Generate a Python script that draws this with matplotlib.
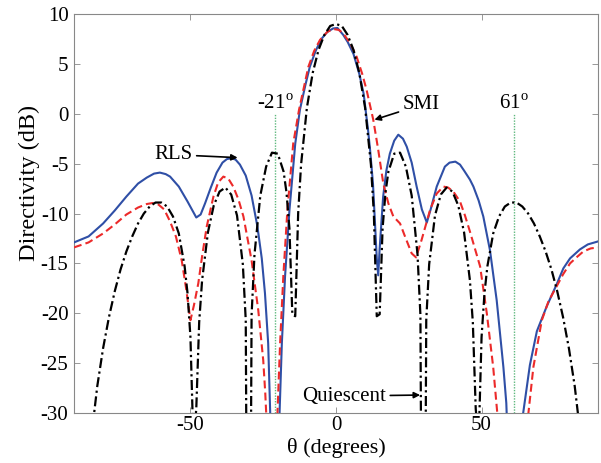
import matplotlib
matplotlib.use("Agg")

import matplotlib.pyplot as plt

# ── 数据 ─────────────────────────────────────────────
q_deg = [-90, -88, -86, -84, -82, -80, -78, -76, -74, -72, -70, -68, -66, -64,
         -62, -60, -58, -56, -54, -52, -51, -50, -49, -48, -47, -46, -44, -42,
         -40, -38, -36, -34, -32, -31, -30, -29, -28, -26, -24, -22, -20, -18,
         -17, -16, -15, -14, -13, -12, -10, -8, -6, -4, -2, 0,
         2, 4, 6, 8, 10, 12, 13, 14, 15, 16, 17, 18, 20, 22, 24, 26, 28, 29,
         30, 31, 32, 34, 36, 38, 40, 42, 44, 46, 47, 48, 49, 50, 51, 52, 54,
         56, 58, 60, 62, 64, 66, 68, 70, 72, 74, 76, 78, 80, 82, 84, 86, 88, 90]
q_db = [-80, -51.4, -39.3, -32.3, -27.3, -23.5, -20.4, -17.8, -15.6, -13.8,
        -12.3, -11.0, -10.0, -9.3, -8.9, -8.9, -9.3, -10.3, -12.0, -15.3,
        -18.0, -22.4, -32.9, -29.6, -20.9, -16.7, -11.9, -9.2, -7.8, -7.4,
        -8.1, -10.2, -15.1, -20.7, -80, -20.2, -14.1, -8.2, -5.3, -3.9, -4.0,
        -5.8, -7.9, -11.5, -20.1, -20.3, -10.0, -5.1, 0.6, 4.1, 6.4, 7.9, 8.8,
        9.0,
        8.8, 7.9, 6.4, 4.1, 0.6, -5.1, -10.0, -20.3, -20.1, -11.5, -7.9, -5.8,
        -4.0, -3.9, -5.3, -8.2, -14.1, -20.2, -80, -20.7, -15.1, -10.2, -8.1,
        -7.4, -7.8, -9.2, -11.9, -16.7, -20.9, -29.6, -32.9, -22.4, -18.0,
        -15.3, -12.0, -10.3, -9.3, -8.9, -8.9, -9.3, -10.0, -11.0, -12.3,
        -13.8, -15.6, -17.8, -20.4, -23.5, -27.3, -32.3, -39.3, -51.4, -80]

rls_deg = [-90, -85, -80, -76, -72, -68, -65, -62.5, -60.5, -58.5, -57, -54,
           -51, -48, -46.5, -45, -43, -41, -39, -37.5, -36, -34.5, -33, -31,
           -29, -27, -25.5, -24.4, -23.3, -22.5, -21, -19.5, -18.6, -17.5, -16,
           -14, -12.4, -10.5, -9, -7, -5, -3, -1, 0.5, 2.5, 4, 6, 8, 9.5, 11,
           11.7, 12.7, 13.4, 14.0, 14.5, 15.0, 16.2, 17.3, 18.5, 20, 21.4, 23,
           24.3, 26, 27.7, 29.5, 31.2, 32.5, 34.6, 37.4, 39, 41, 42.6, 44, 46,
           47.2, 49, 50.6, 52.9, 55.2, 57.5, 58.5, 60.5, 63.5, 64.3, 66.6, 69,
           72.4, 75.8, 78.1, 80.4, 83.8, 86.5, 90]
rls_db = [-12.9, -12.3, -11.0, -9.7, -8.3, -7.0, -6.4, -6.0, -5.9, -6.05,
          -6.3, -7.3, -8.8, -10.4, -10.1, -9.0, -7.4, -5.9, -4.9, -4.55, -4.45,
          -4.6, -5.1, -6.2, -8.2, -11.3, -14.5, -18.0, -23.0, -31, -45, -31,
          -23.0, -16.3, -9.7, -3.0, 0.4, 2.9, 4.7, 6.3, 7.5, 8.2, 8.55, 8.6,
          7.9, 7.2, 6.0, 4.0, 2.0, -1.6, -3.6, -7.0, -11.0, -14.5, -16.2, -13.5,
          -8.3, -5.7, -4.0, -2.7, -2.1, -2.5, -3.3, -4.9, -7.3, -9.6, -10.9,
          -9.6, -7.3, -5.3, -4.9, -4.8, -5.1, -5.7, -6.6, -7.3, -8.7, -10.3,
          -13.7, -18.7, -25.4, -29, -45, -32, -30, -25.2, -21.8, -19.3, -17.1,
          -15.5, -14.5, -13.6, -13.1, -12.8]

smi_deg = [-90, -85, -80, -76, -72, -68, -65, -63, -61, -59, -57, -55, -53,
           -51.5, -50, -48.8, -47.3, -46, -44.4, -42.1, -40.5, -38.7, -37,
           -35.3, -33.5, -31.8, -29, -26.7, -25, -24.3, -23.5, -22, -20.5,
           -19.2, -18.1, -16.7, -14.7, -12.7, -9.5, -7.5, -5.5, -3, -1, 1, 2.5,
           5, 7.1, 9, 10.5, 12.8, 14.5, 16.25, 18, 19.7, 22, 23.7, 26, 27.5,
           29.4, 32.3, 34.6, 36.9, 38.5, 40.3, 42.6, 44.3, 46, 49.5, 51.8, 54,
           55.4, 57.5, 61, 64, 66.1, 67.8, 70.7, 73, 75.8, 78, 80.4, 83, 85,
           87.5, 90]
smi_db = [-13.4, -12.9, -12.0, -11.1, -10.1, -9.4, -9.05, -8.95, -9.1, -9.6,
          -10.8, -12.3, -14.7, -17.5, -20.7, -19.2, -17.0, -14.3, -11.3, -8.3,
          -6.9, -6.3, -6.5, -7.3, -8.6, -10.3, -14.7, -19.7, -24.7, -28, -33,
          -48, -33, -23.0, -16.3, -9.65, -3.0, 0.4, 4.7, 6.3, 7.4, 8.2, 8.5,
          8.4, 8.05, 7.0, 5.7, 4.0, 2.4, -0.6, -3.6, -7.0, -9.0, -10.3, -11.0,
          -12.3, -14.0, -14.4, -12.65, -9.65, -8.0, -7.3, -7.4, -7.8, -8.8,
          -10.2, -11.8, -15.3, -20.0, -25.4, -30, -40, -50, -40, -30, -25.4,
          -20.7, -18.8, -17.3, -16.1, -15.0, -14.3, -13.8, -13.5, -13.4]

jam_deg = [-21, 61]
jam_labels = ["-21$^{\\rm o}$", "61$^{\\rm o}$"]

x_ticks = [-50, 0, 50]
y_ticks = [-30, -25, -20, -15, -10, -5, 0, 5, 10]

# ── 样式 ──────────────────────────────────────────────────
plt.rcParams["font.family"] = ["Liberation Serif", "DejaVu Serif"]
plt.rcParams["mathtext.fontset"] = "custom"
plt.rcParams["mathtext.rm"] = "Liberation Serif"
plt.rcParams["axes.unicode_minus"] = False
plt.rcParams["font.size"] = 15

fig = plt.figure(figsize=(6.01, 4.63), dpi=100)
fig.patch.set_facecolor("white")
ax = fig.add_axes([74 / 601, 1 - 413 / 463, 524 / 601, 399 / 463])

ax.plot(rls_deg, rls_db, color="#2f4fa6", linewidth=1.5, zorder=3)
ax.plot(smi_deg, smi_db, color="#ec2a2a", linewidth=1.5,
        dashes=(3.8, 2.0), zorder=4)
ax.plot(q_deg, q_db, color="black", linewidth=1.6,
        dashes=(4.5, 1.6, 1.0, 1.6), zorder=5)

# 干扰方向
for d, lbl in zip(jam_deg, jam_labels):
    ax.vlines(d, -30, 0, colors="#5fb87e", linewidth=1.0,
              linestyles=(0, (1, 1)), zorder=2)
    ax.text(d, 0.45, lbl, ha="center", va="baseline", fontsize=15)

arrow = dict(arrowstyle="-|>", color="black", lw=1.2,
             mutation_scale=9, shrinkA=1, shrinkB=0)
ax.annotate("RLS", xy=(-33.8, -4.4), xytext=(-49.3, -4.1),
            ha="right", va="center", arrowprops=arrow, fontsize=15)
ax.annotate("SMI", xy=(13.2, -0.6), xytext=(22.9, 0.9),
            ha="left", va="center", arrowprops=arrow, fontsize=15)
ax.annotate("Quiescent", xy=(28.9, -28.2), xytext=(17.2, -28.3),
            ha="right", va="center", arrowprops=arrow, fontsize=15)

ax.set_xlim(-90, 90)
ax.set_ylim(-30, 10)
ax.set_xticks(x_ticks)
ax.set_yticks(y_ticks)
ax.tick_params(direction="in", length=4, width=0.6, color="#888888",
               top=True, right=True, labelsize=15)
ax.tick_params(axis="x", pad=2)
ax.tick_params(axis="y", pad=4)
for s in ax.spines.values():
    s.set_color("#888888")
    s.set_linewidth(0.8)

ax.set_xlabel("θ (degrees)", fontsize=16)
ax.set_ylabel("Directivity (dB)", fontsize=17.5)
ax.xaxis.set_label_coords(0.5, -0.062)
ax.yaxis.set_label_coords(-0.064, 0.576)

fig.savefig("out.png", dpi=100, facecolor="white")
